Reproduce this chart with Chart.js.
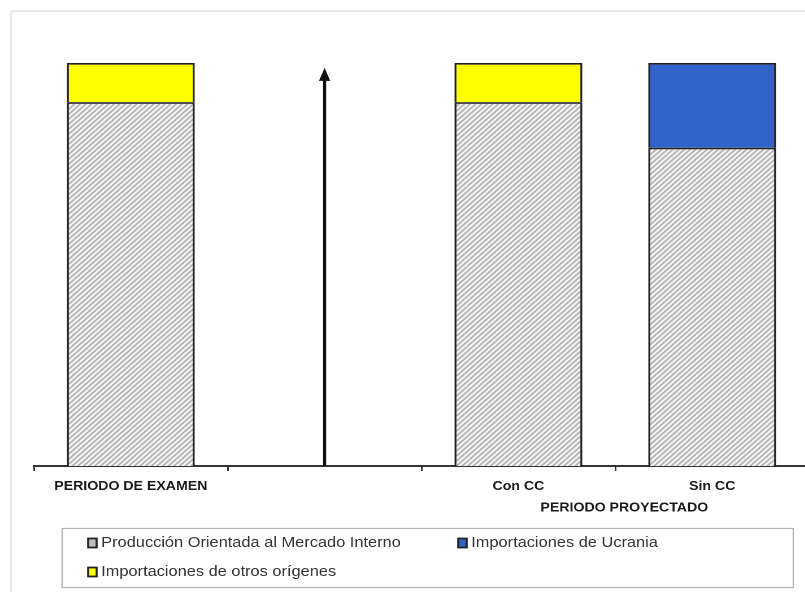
<!DOCTYPE html>
<html><head><meta charset="utf-8">
<script src="https://cdn.jsdelivr.net/npm/chart.js@4.4.1/dist/chart.umd.min.js"></script>
<style>
html,body{margin:0;padding:0;background:#fff;overflow:hidden;width:805px;height:592px}
#frame{position:absolute;left:10px;top:10px;width:900px;height:700px;border:2px solid #e8e8e8;border-radius:4px;box-sizing:border-box}
#wrap{position:absolute;left:0;top:0;width:720px;height:592px;transform:scaleX(1.13);transform-origin:0 0}
</style></head><body>
<div id="frame"></div>
<div id="wrap"><canvas id="c"></canvas></div>
<script>
// ---- data ----
const categories = ['PERIODO DE EXAMEN', '', 'Con CC', 'Sin CC'];
const groupLabel = 'PERIODO PROYECTADO';
const seriesNames = ['Producción Orientada al Mercado Interno', 'Importaciones de Ucrania', 'Importaciones de otros orígenes'];
const produccion = [90.3, null, 90.3, 79];
const ucrania = [null, null, null, 21];
const otros = [9.7, null, 9.7, null];
const arrowCategory = 1;
const arrowTop = 98.8;

// ---- hatch pattern ----
function makeHatch() {
  const t = document.createElement('canvas');
  t.width = 5; t.height = 5;
  const g = t.getContext('2d');
  g.fillStyle = '#ffffff'; g.fillRect(0, 0, 5, 5);
  g.strokeStyle = '#969696'; g.lineWidth = 1.3;
  g.beginPath();
  g.moveTo(0, 5); g.lineTo(5, 0);
  g.moveTo(-1, 1); g.lineTo(1, -1);
  g.moveTo(4, 6); g.lineTo(6, 4);
  g.stroke();
  return document.getElementById('c').getContext('2d').createPattern(t, 'repeat');
}
const hatch = makeHatch();

const arrowPlugin = {
  id: 'arrow',
  afterDatasetsDraw(chart) {
    const { ctx, scales: { x, y } } = chart;
    const px = x.getPixelForValue(arrowCategory);
    const y0 = y.getPixelForValue(0);
    const y1 = y.getPixelForValue(arrowTop);
    ctx.save();
    ctx.strokeStyle = '#111'; ctx.lineWidth = 2.8;
    ctx.beginPath(); ctx.moveTo(px, y0); ctx.lineTo(px, y1 + 10); ctx.stroke();
    ctx.fillStyle = '#111';
    ctx.beginPath(); ctx.moveTo(px, y1); ctx.lineTo(px - 5, y1 + 13); ctx.lineTo(px + 5, y1 + 13); ctx.closePath(); ctx.fill();
    ctx.restore();
  }
};

const extrasPlugin = {
  id: 'extras',
  afterDraw(chart) {
    const { ctx, scales: { x } } = chart;
    ctx.save();
    // group label
    const gx = (x.getPixelForValue(2) + x.getPixelForValue(3)) / 2 + 8;
    ctx.font = 'bold 12.5px "Liberation Sans", Arial, sans-serif';
    ctx.fillStyle = '#1a1a1a';
    ctx.textAlign = 'center'; ctx.textBaseline = 'middle';
    ctx.fillText(groupLabel, gx, 508);
    // legend box
    ctx.strokeStyle = '#b4b4b4'; ctx.lineWidth = 1.2;
    ctx.strokeRect(55, 528.5, 647, 59);
    const items = [
      { ds: 0, mx: 78, my: 543 },
      { ds: 1, mx: 405.5, my: 543 },
      { ds: 2, mx: 78, my: 572 }
    ];
    ctx.font = '14.5px "Liberation Sans", Arial, sans-serif';
    ctx.textAlign = 'left';
    items.forEach(it => {
      const d = chart.data.datasets[it.ds];
      ctx.fillStyle = d.legendFill || d.backgroundColor;
      ctx.fillRect(it.mx, it.my - 4.5, 7.5, 9);
      ctx.strokeStyle = '#222'; ctx.lineWidth = 1.8;
      ctx.strokeRect(it.mx, it.my - 4.5, 7.5, 9);
      ctx.fillStyle = '#333';
      ctx.fillText(d.label, it.mx + 11.5, it.my);
    });
    ctx.restore();
  }
};

new Chart(document.getElementById('c'), {
  type: 'bar',
  data: {
    labels: categories,
    datasets: [
      { label: seriesNames[0], data: produccion, backgroundColor: hatch, legendFill: '#bdbdbd', borderColor: '#222', borderWidth: 1.8 },
      { label: seriesNames[1], data: ucrania, backgroundColor: '#3163c9', borderColor: '#1f1f2a', borderWidth: 1.8 },
      { label: seriesNames[2], data: otros, backgroundColor: '#ffff00', borderColor: '#222', borderWidth: 1.8 }
    ]
  },
  options: {
    responsive: true,
    maintainAspectRatio: false,
    animation: false,
    devicePixelRatio: 2,
    layout: { padding: { left: 30, right: 4, top: 63, bottom: 0 } },
    datasets: { bar: { barPercentage: 0.66, categoryPercentage: 1 } },
    plugins: { legend: { display: false }, tooltip: { enabled: false } },
    scales: {
      x: {
        stacked: true,
        grid: { display: true, drawOnChartArea: false, drawTicks: true, tickLength: 5, color: '#333', lineWidth: 1.5 },
        border: { display: true, color: '#333', width: 2 },
        ticks: { color: '#1a1a1a', padding: 8, maxRotation: 0, autoSkip: false,
          font: { family: '"Liberation Sans", Arial, sans-serif', size: 12.5, weight: 'bold' } },
        afterFit(scale) { scale.height = 126; }
      },
      y: { stacked: true, display: false, min: 0, max: 100 }
    }
  },
  plugins: [arrowPlugin, extrasPlugin]
});
</script>
</body></html>
